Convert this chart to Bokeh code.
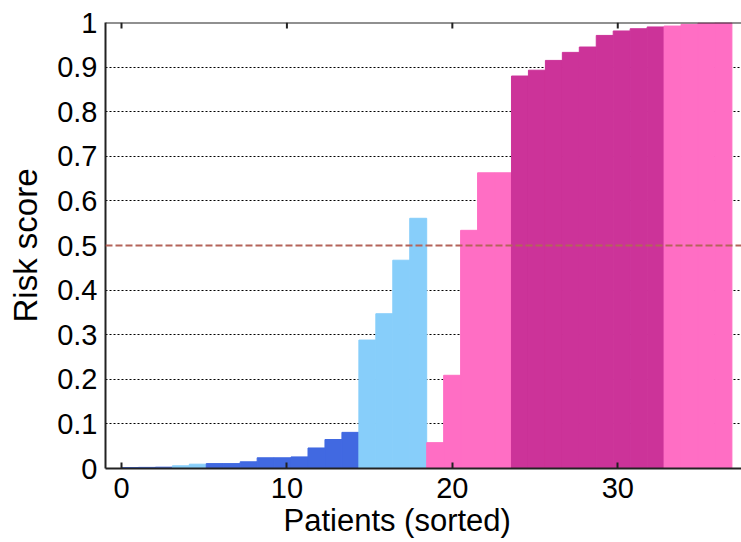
from bokeh.plotting import figure
from bokeh.models import FixedTicker, LinearAxis, Span, Range1d, ColumnDataSource, Grid, Title
from bokeh.embed import file_html
from bokeh.resources import INLINE

# ---- data ----
risk_scores = [0.002, 0.0025, 0.003, 0.006, 0.0097,
               0.011, 0.011, 0.015, 0.024, 0.024, 0.026, 0.046, 0.065, 0.081,
               0.288, 0.347, 0.467, 0.561,
               0.058, 0.209, 0.534, 0.663, 0.663,
               0.880, 0.893, 0.915, 0.933, 0.945, 0.971, 0.981, 0.986, 0.990,
               0.992, 0.996, 0.999, 0.9995]
groups = (["TN"] * 3 + ["FN"] * 2 + ["TN"] * 9 + ["FN"] * 4 +
          ["FP"] * 5 + ["TP"] * 9 + ["FP"] * 4)
group_colors = {"TN": "#4169E1", "FN": "#87CEFA", "FP": "#FF6EC4", "TP": "#CC3399"}
threshold = 0.5
x_ticks = [0, 10, 20, 30]
y_ticks = [0, 0.1, 0.2, 0.3, 0.4, 0.5, 0.6, 0.7, 0.8, 0.9, 1.0]
y_tick_labels = ["0", "0.1", "0.2", "0.3", "0.4", "0.5", "0.6", "0.7", "0.8", "0.9", "1"]
grid_levels = [0.1, 0.2, 0.3, 0.4, 0.6, 0.7, 0.8, 0.9]
x_title = "Patients (sorted)"
y_title = "Risk score"

BAR_W = 1.025
left = [i * BAR_W for i in range(len(risk_scores))]
right = [l + BAR_W for l in left]
colors = [group_colors[g] for g in groups]
src = ColumnDataSource(dict(left=left, right=right, top=risk_scores,
                            bottom=[0] * len(risk_scores), color=colors))

FONT = "Liberation Sans"
Y_MAX = 1.0
TOP_TICK_LEN = 6 / 446  # 6 px inward tick on the top spine

p = figure(width=741, height=542, output_backend="svg", toolbar_location=None,
           x_range=Range1d(-0.967, 37.48), y_range=Range1d(0, Y_MAX),
           min_border_left=105, min_border_right=0, min_border_top=22,
           min_border_bottom=74, x_axis_location=None, y_axis_location=None)
p.outline_line_color = None
p.background_fill_color = "white"
p.border_fill_color = "white"

# grid (behind bars)
p.xgrid.visible = False
p.ygrid.visible = False
g = Grid(dimension=1, ticker=FixedTicker(ticks=grid_levels), grid_line_color="black",
         grid_line_dash="2 2", grid_line_width=1)
p.add_layout(g)

p.quad(left="left", right="right", top="top", bottom="bottom",
       fill_color="color", line_color="color", line_width=1, source=src)

p.add_layout(Span(location=threshold, dimension="width", line_color="#B4645A",
                  line_dash="7 3", line_width=1.8))

# top spine with inward ticks
p.add_layout(Span(location=Y_MAX, dimension="width", line_color="#222222", line_width=2))
p.segment(x0=x_ticks, y0=[Y_MAX] * len(x_ticks), x1=x_ticks,
          y1=[Y_MAX - TOP_TICK_LEN] * len(x_ticks), line_color="#222222", line_width=2)

# axes
xaxis = LinearAxis(ticker=FixedTicker(ticks=x_ticks))
yaxis = LinearAxis(ticker=FixedTicker(ticks=y_ticks), axis_label=y_title)
yaxis.major_label_overrides = {t: l for t, l in zip(y_ticks, y_tick_labels)}

for ax in (xaxis, yaxis):
    ax.axis_line_color = "#222222"
    ax.axis_line_width = 2
    ax.major_tick_line_color = "#222222"
    ax.major_tick_line_width = 2
    ax.major_tick_in = 6
    ax.major_tick_out = 0
    ax.minor_tick_line_color = None
    ax.major_label_text_font = FONT
    ax.major_label_text_color = "black"
    ax.major_label_text_font_size = "29px"
    ax.axis_label_text_font = FONT
    ax.axis_label_text_font_style = "normal"
    ax.axis_label_text_color = "black"

yaxis.major_tick_in = 0
yaxis.axis_label_text_font_size = "33px"
xaxis.major_label_standoff = 9
yaxis.major_label_standoff = 8
yaxis.axis_label_standoff = 10

p.add_layout(xaxis, "below")
p.add_layout(yaxis, "left")

# x-axis title, placed off-centre like the reference
xt = Title(text=x_title, align="left", offset=178, standoff=0,
           text_font=FONT, text_font_size="31px", text_font_style="normal",
           text_color="black")
p.add_layout(xt, "below")

open("out.html", "w").write(file_html(p, INLINE))
